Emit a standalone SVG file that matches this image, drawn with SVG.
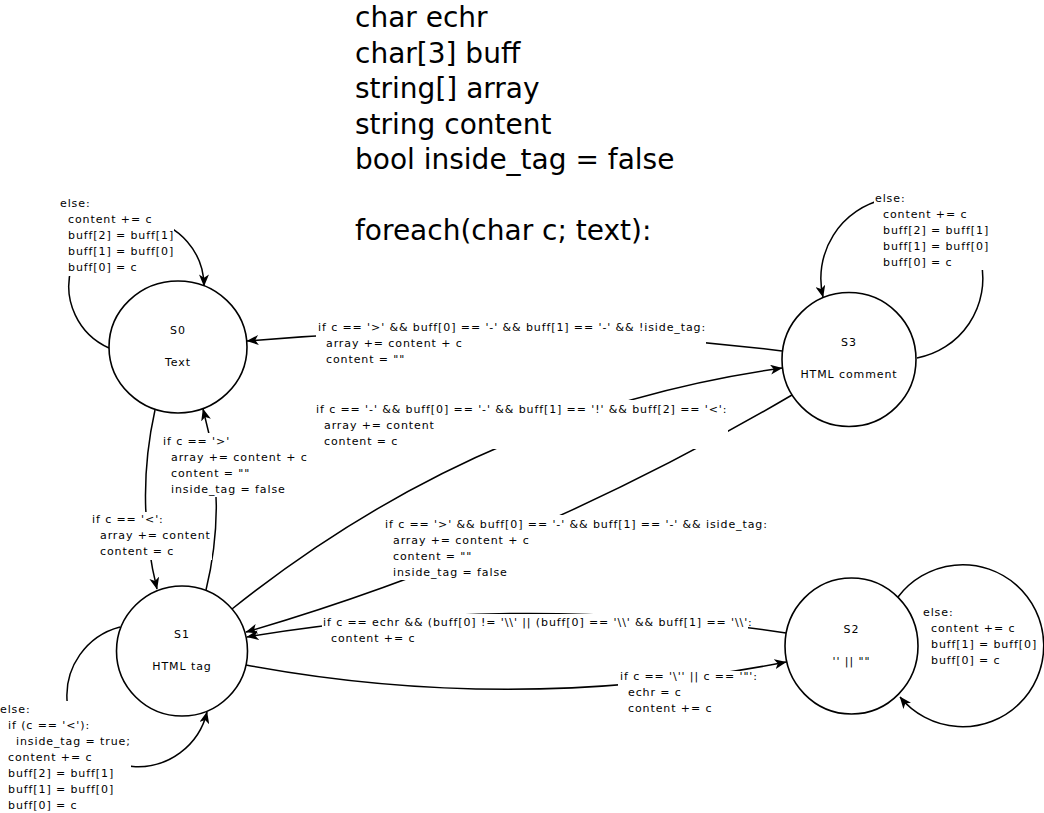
<svg xmlns="http://www.w3.org/2000/svg" width="1044" height="813" viewBox="0 0 1044 813">
<style>
.node{fill:#fff;stroke:#000;stroke-width:1.6}
.edge{fill:none;stroke:#000;stroke-width:1.5}
.lbl{font-family:"DejaVu Sans","Liberation Sans",sans-serif;font-size:11px;letter-spacing:0.9px;fill:#000}
.big{font-family:"DejaVu Sans","Liberation Sans",sans-serif;font-size:28px;fill:#000}
.c{text-anchor:middle}
</style>
<defs>
<marker id="arr" viewBox="0 0 12 10" refX="11.5" refY="5" markerWidth="12" markerHeight="10" orient="auto" markerUnits="userSpaceOnUse">
<path d="M0,0 L12,5 L0,10 L3.2,5 z" fill="#000"/>
</marker>
<mask id="gaps" maskUnits="userSpaceOnUse" x="0" y="0" width="1044" height="813">
<rect x="0" y="0" width="1044" height="813" fill="#fff"/>
<rect x="58" y="194" width="116" height="82" fill="#000"/>
<rect x="162" y="433" width="150" height="64" fill="#000"/>
<rect x="90" y="512" width="122" height="48" fill="#000"/>
<rect x="0" y="701" width="131" height="112" fill="#000"/>
<rect x="316" y="319" width="390" height="46" fill="#000"/>
<rect x="315" y="400" width="413" height="49" fill="#000"/>
<rect x="384" y="515" width="388" height="65" fill="#000"/>
<rect x="322" y="614" width="426" height="31" fill="#000"/>
<rect x="618" y="671" width="140" height="45" fill="#000"/>
<rect x="874" y="190" width="115" height="80" fill="#000"/>
</mask>
</defs>
<rect x="0" y="0" width="1044" height="813" fill="#fff"/>

<g id="declarations">
<text class="big" x="355" y="27">char echr</text>
<text class="big" x="355" y="62.5">char[3] buff</text>
<text class="big" x="355" y="98">string[] array</text>
<text class="big" x="355" y="133.5">string content</text>
<text class="big" x="355" y="169">bool inside_tag = false</text>
<text class="big" x="355" y="240">foreach(char c; text):</text>
</g>

<g id="S0">
<ellipse class="node" cx="178" cy="347" rx="69" ry="66"/>
<text class="lbl c" x="178" y="334">S0</text>
<text class="lbl c" x="178" y="366">Text</text>
</g>
<g id="S1">
<ellipse class="node" cx="182" cy="651" rx="65.5" ry="65"/>
<text class="lbl c" x="182" y="638">S1</text>
<text class="lbl c" x="182" y="670">HTML tag</text>
</g>
<g id="S2">
<ellipse class="node" cx="851.5" cy="646" rx="66.5" ry="68"/>
<text class="lbl c" x="851.5" y="633">S2</text>
<text class="lbl c" x="851.5" y="665">'' || ""</text>
</g>
<g id="S3">
<ellipse class="node" cx="849" cy="359.5" rx="67" ry="67"/>
<text class="lbl c" x="849" y="346">S3</text>
<text class="lbl c" x="849" y="378">HTML comment</text>
</g>

<g id="connectors" mask="url(#gaps)">
<path class="edge" marker-end="url(#arr)" d="M109,348 A67.6,67.6 0 1 1 204,286"/>
<path class="edge" marker-end="url(#arr)" d="M155,410 Q135,500 157,589"/>
<path class="edge" marker-end="url(#arr)" d="M206,590 Q228,500 203,409"/>
<path class="edge" marker-end="url(#arr)" d="M120,627 A71,71 0 1 0 207,712"/>
<path class="edge" marker-end="url(#arr)" d="M782,351 Q515,318 247,341"/>
<path class="edge" marker-end="url(#arr)" d="M232,609 Q481,410 782,368"/>
<path class="edge" marker-end="url(#arr)" d="M792,395 Q528,550 246,632"/>
<path class="edge" marker-end="url(#arr)" d="M786,633 Q516,592 247,637"/>
<path class="edge" marker-end="url(#arr)" d="M246,665 Q515,715 786,662"/>
<path class="edge" marker-end="url(#arr)" d="M898,597 A81,81 0 1 1 900,697"/>
<path class="edge" marker-end="url(#arr)" d="M917,358 A81,81 0 1 0 823,297"/>
</g>

<g id="labels">
<text class="lbl" x="60" y="207">else:</text>
<text class="lbl" x="68" y="223">content += c</text>
<text class="lbl" x="68" y="239">buff[2] = buff[1]</text>
<text class="lbl" x="68" y="255">buff[1] = buff[0]</text>
<text class="lbl" x="68" y="271">buff[0] = c</text>

<text class="lbl" x="163" y="445">if c == '&gt;'</text>
<text class="lbl" x="171" y="461">array += content + c</text>
<text class="lbl" x="171" y="477">content = ""</text>
<text class="lbl" x="171" y="493">inside_tag = false</text>

<text class="lbl" x="92" y="523">if c == '&lt;':</text>
<text class="lbl" x="100" y="539">array += content</text>
<text class="lbl" x="100" y="555">content = c</text>

<text class="lbl" x="0" y="713">else:</text>
<text class="lbl" x="8" y="729">if (c == '&lt;'):</text>
<text class="lbl" x="16" y="745">inside_tag = true;</text>
<text class="lbl" x="8" y="761">content += c</text>
<text class="lbl" x="8" y="777">buff[2] = buff[1]</text>
<text class="lbl" x="8" y="793">buff[1] = buff[0]</text>
<text class="lbl" x="8" y="809">buff[0] = c</text>

<text class="lbl" x="318" y="331">if c == '&gt;' &amp;&amp; buff[0] == '-' &amp;&amp; buff[1] == '-' &amp;&amp; !iside_tag:</text>
<text class="lbl" x="326" y="347">array += content + c</text>
<text class="lbl" x="326" y="363">content = ""</text>

<text class="lbl" x="316" y="413">if c == '-' &amp;&amp; buff[0] == '-' &amp;&amp; buff[1] == '!' &amp;&amp; buff[2] == '&lt;':</text>
<text class="lbl" x="324" y="429">array += content</text>
<text class="lbl" x="324" y="445">content = c</text>

<text class="lbl" x="385" y="528">if c == '&gt;' &amp;&amp; buff[0] == '-' &amp;&amp; buff[1] == '-' &amp;&amp; iside_tag:</text>
<text class="lbl" x="393" y="544">array += content + c</text>
<text class="lbl" x="393" y="560">content = ""</text>
<text class="lbl" x="393" y="576">inside_tag = false</text>

<text class="lbl" x="323" y="626">if c == echr &amp;&amp; (buff[0] != '\\' || (buff[0] == '\\' &amp;&amp; buff[1] == '\\':</text>
<text class="lbl" x="331" y="642">content += c</text>

<text class="lbl" x="620" y="680">if c == '\'' || c == '"':</text>
<text class="lbl" x="628" y="696">echr = c</text>
<text class="lbl" x="628" y="712">content += c</text>

<text class="lbl" x="923" y="616">else:</text>
<text class="lbl" x="931" y="632">content += c</text>
<text class="lbl" x="931" y="648">buff[1] = buff[0]</text>
<text class="lbl" x="931" y="664">buff[0] = c</text>

<text class="lbl" x="875" y="202">else:</text>
<text class="lbl" x="883" y="218">content += c</text>
<text class="lbl" x="883" y="234">buff[2] = buff[1]</text>
<text class="lbl" x="883" y="250">buff[1] = buff[0]</text>
<text class="lbl" x="883" y="266">buff[0] = c</text>
</g>
</svg>
